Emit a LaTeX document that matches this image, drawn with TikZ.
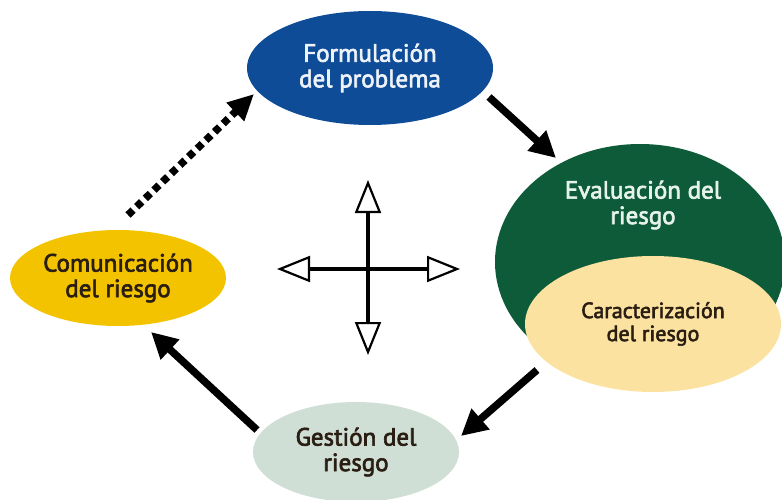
\documentclass[tikz,border=0pt]{standalone}
\usepackage{fontspec}
\setmainfont{PT Sans}
\usetikzlibrary{shapes.geometric,arrows.meta}
\definecolor{cblue}{HTML}{0F4C97}
\definecolor{cdgreen}{HTML}{0E5B3A}
\definecolor{clyellow}{HTML}{FBE2A0}
\definecolor{cyellow}{HTML}{F4C300}
\definecolor{clgreen}{HTML}{CFDFD6}
\definecolor{ctxtlight}{HTML}{E6F2EC}
\definecolor{ctxtblue}{HTML}{EEF3FA}
\definecolor{ctxtdark}{HTML}{2A1E12}
\newfontfamily\medfont{PT Sans}[FakeBold=2.6]
\tikzset{
  blob/.style={ellipse, inner sep=0pt, align=center, font=\fontsize{25}{25.5}\selectfont\medfont},
  flow/.style={line width=7.5pt, -{Triangle[length=26pt,width=26pt]}},
  dotflow/.style={line width=7.5pt, dash pattern=on 7pt off 5pt, -{Triangle[length=26pt,width=24pt]}},
  cross/.style={line width=3.5pt, {Triangle[open,length=33pt,width=26pt,line width=2.2pt]}-{Triangle[open,length=33pt,width=26pt,line width=2.2pt]}}
}
\begin{document}
\begin{tikzpicture}[x=1pt,y=-1pt]
\useasboundingbox (0,0) rectangle (782,500);
\node[blob, fill=cblue, text=ctxtblue, minimum width=246pt, minimum height=114pt] (fp) at (370,68) {Formulación\\del problema};
\node[blob, fill=cdgreen, minimum width=290pt, minimum height=236pt] (er) at (640,262) {};
\node[font=\fontsize{25}{25.5}\selectfont\medfont, text=ctxtlight, align=center] (ert) at (643,205) {Evaluación del\\riesgo};
\node[blob, fill=clyellow, text=ctxtdark, minimum width=256pt, minimum height=136pt, font=\fontsize{22}{23}\selectfont\medfont] (cr) at (653,324) {Caracterización\\del riesgo};
\node[blob, fill=cyellow, text=ctxtdark, minimum width=216pt, minimum height=96pt] (cm) at (118,278) {Comunicación\\del riesgo};
\node[blob, fill=clgreen, text=ctxtdark, minimum width=206pt, minimum height=100pt] (gr) at (356,452) {Gestión del\\riesgo};
% connectors
\coordinate (a1s) at (489,97);
\coordinate (a1e) at (556,158);
\draw[flow] (a1s) -- (a1e);
\coordinate (a2s) at (537,370);
\coordinate (a2e) at (461,436);
\draw[flow] (a2s) -- (a2e);
\coordinate (a3s) at (257,430);
\coordinate (a3e) at (151,332);
\draw[flow] (a3s) -- (a3e);
\coordinate (a4s) at (128,215);
\coordinate (a4e) at (254,94);
\draw[dotflow] (a4s) -- (a4e);
% central cross
\coordinate (cL) at (277,269);
\coordinate (cR) at (460,269);
\coordinate (cT) at (368,180);
\coordinate (cB) at (368,355);
\draw[cross] (cL) -- (cR);
\draw[cross] (cT) -- (cB);
\end{tikzpicture}
\end{document}
